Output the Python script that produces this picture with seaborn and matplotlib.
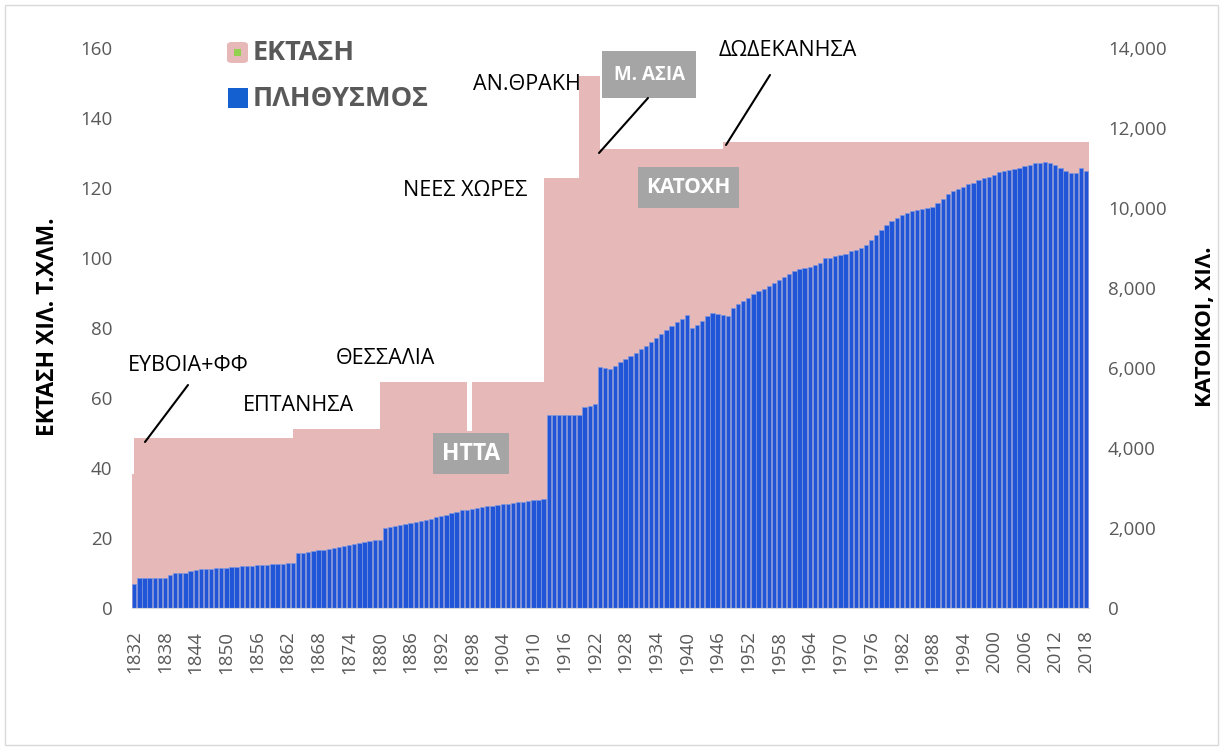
import numpy as np
import pandas as pd
import matplotlib
matplotlib.use("Agg")
import matplotlib.pyplot as plt
import seaborn as sns
from matplotlib.patches import Rectangle, FancyBboxPatch
from matplotlib.lines import Line2D
from matplotlib.ticker import FuncFormatter

sns.set_style("white")
plt.rcParams['font.family'] = ['Open Sans', 'DejaVu Sans']

years = list(range(1832, 2019))

# land area, thousand km2 -- first year each value holds
area_from = [1832, 1833, 1864, 1881, 1898, 1899, 1913, 1920, 1924, 1948]
area_km2 = [38.4, 48.6, 51.3, 64.6, 50.5, 64.6, 123.0, 152.0, 131.3, 133.1]

# population, thousands (one value per year 1832-2018)
population = [
    608, 767, 767, 767, 767, 767, 767, 833,                      # 1832-1839
    875, 883, 875, 933, 950, 983, 983, 992, 1000, 1008,          # 1840s
    1017, 1033, 1042, 1050, 1058, 1067, 1075, 1075, 1092, 1100,  # 1850s
    1108, 1117, 1125, 1142, 1380, 1391, 1416, 1432, 1449, 1466,  # 1860s
    1474, 1499, 1524, 1549, 1574, 1599, 1624, 1649, 1674, 1699,  # 1870s
    1716, 2016, 2041, 2066, 2091, 2107, 2132, 2157, 2182, 2207,  # 1880s
    2232, 2274, 2307, 2341, 2374, 2416, 2449, 2466, 2474, 2507,  # 1890s
    2532, 2549, 2566, 2582, 2599, 2616, 2632, 2649, 2666, 2682,  # 1900s
    2699, 2716, 2741, 4832, 4832, 4832, 4832, 4832, 4832, 4832,  # 1910s
    5024, 5066, 5116, 6032, 6016, 5974, 6057, 6149, 6224, 6299,  # 1920s
    6385, 6478, 6566, 6649, 6749, 6857, 6957, 7049, 7149, 7241,  # 1930s
    7341, 7000, 7082, 7182, 7299, 7391, 7366, 7324, 7307, 7507,  # 1940s
    7591, 7666, 7749, 7841, 7916, 7982, 8049, 8124, 8199, 8282,  # 1950s
    8357, 8416, 8474, 8499, 8532, 8574, 8632, 8741, 8757, 8791,  # 1960s
    8816, 8857, 8916, 8957, 8991, 9074, 9191, 9324, 9457, 9566,  # 1970s
    9666, 9749, 9816, 9874, 9924, 9957, 9982, 10007, 10024, 10116,      # 1980s
    10216, 10349, 10424, 10482, 10532, 10591, 10632, 10695, 10741, 10782,  # 1990s
    10832, 10891, 10924, 10949, 10974, 11007, 11057, 11082, 11116, 11132,  # 2000s
    11149, 11132, 11082, 10999, 10924, 10882, 10882, 10999, 10924,         # 2010-2018
]
assert len(population) == len(years)

tick_years = years[::6]

PINK = "#E6B8B7"
BLUE = "#1F55D6"
GREY_BOX = "#A5A5A5"
TXT = "#595959"

area = []
for yr in years:
    idx = max(i for i, s in enumerate(area_from) if s <= yr)
    area.append(area_km2[idx])
n = len(years)

W, H = 1225, 749
fig = plt.figure(figsize=(W / 100, H / 100), dpi=100)
fx = lambda px: px / W
fy = lambda py: 1 - py / H

ax = fig.add_axes([fx(131.7), fy(608.3), fx(1088.6) - fx(131.7), fy(48) - fy(608.3)])
ax2 = ax.twinx()

# area as step fill behind the bars
xs = np.r_[np.arange(n) - 1, n - 0.5]
ax.fill_between(xs, np.r_[area, area[-1]], step="post", color=PINK, lw=0)

df = pd.DataFrame({"year": [str(y) for y in years], "pop": population})
sns.barplot(data=df, x="year", y="pop", ax=ax2, color=BLUE, saturation=1,
            width=0.84, edgecolor="#7E98E0", linewidth=0.5)

ax.set_xlim(-0.5, n - 0.5)
ax.set_ylim(0, 160)
ax2.set_ylim(0, 14000)
ax.set_yticks(range(0, 161, 20))
ax2.set_yticks(range(0, 14001, 2000))
ax2.yaxis.set_major_formatter(FuncFormatter(lambda v, p: f"{int(v):,}"))
ax.set_xticks([years.index(y) for y in tick_years])
ax.set_xticklabels([str(y) for y in tick_years], rotation=90)

ax.tick_params(axis="y", length=0, labelsize=13.5, labelcolor=TXT, pad=14)
ax2.tick_params(axis="y", length=0, labelsize=13.5, labelcolor=TXT, pad=14)
ax.tick_params(axis="x", length=0, labelsize=13.5, labelcolor=TXT, pad=16)
ax.set_xlabel("")
ax2.set_xlabel("")
ax2.set_ylabel("")
for a in (ax, ax2):
    for s in a.spines.values():
        s.set_visible(False)
ax2.spines["bottom"].set_visible(True)
ax2.spines["bottom"].set_color("#D9D9D9")
ax2.spines["bottom"].set_linewidth(0.8)

# axis titles
fig.text(fx(48), fy(327), "ΕΚΤΑΣΗ ΧΙΛ. Τ.ΧΛΜ.", rotation=90, fontsize=16.5,
         fontweight="bold", ha="center", va="center", color="black")
fig.text(fx(1205), fy(327), "ΚΑΤΟΙΚΟΙ, ΧΙΛ.", rotation=90, fontsize=16,
         fontweight="bold", ha="center", va="center", color="black")

# legend
fig.add_artist(FancyBboxPatch((fx(227), fy(63)), fx(21), 21 / H,
                              boxstyle="round,pad=0,rounding_size=0.004",
                              transform=fig.transFigure, fc=PINK, ec="none"))
fig.add_artist(Rectangle((fx(234), fy(56)), fx(7), 7 / H, transform=fig.transFigure,
                         fc="#92D050", ec="none"))
fig.add_artist(Rectangle((fx(228), fy(108)), fx(20), 20 / H, transform=fig.transFigure,
                         fc="#1560D0", ec="none"))
fig.text(fx(253), fy(53), "ΕΚΤΑΣΗ", fontsize=19.5, fontweight="bold", color=TXT,
         ha="left", va="center")
fig.text(fx(253), fy(99), "ΠΛΗΘΥΣΜΟΣ", fontsize=19.5, fontweight="bold", color=TXT,
         ha="left", va="center")

# annotations
notes = [
    ("ΕΥΒΟΙΑ+ΦΦ", 188, 365),
    ("ΕΠΤΑΝΗΣΑ", 298, 406),
    ("ΘΕΣΣΑΛΙΑ", 385, 359),
    ("ΝΕΕΣ ΧΩΡΕΣ", 465, 190),
    ("ΑΝ.ΘΡΑΚΗ", 527, 85),
    ("ΔΩΔΕΚΑΝΗΣΑ", 788, 50),
]
for txt, px, py in notes:
    fig.text(fx(px), fy(py), txt, fontsize=15.5, color="black", ha="center", va="center")

for (x0, y0), (x1, y1) in [((188, 385), (145, 442)),
                           ((648, 98), (599, 153)),
                           ((770, 75), (726, 145))]:
    fig.add_artist(Line2D([fx(x0), fx(x1)], [fy(y0), fy(y1)], transform=fig.transFigure,
                          color="black", lw=1.5))

boxes = [
    ("Μ. ΑΣΙΑ", 602, 51, 696, 98, 13.5),
    ("ΚΑΤΟΧΗ", 638, 167, 739, 208, 15),
    ("ΗΤΤΑ", 433, 433, 509, 474, 16.5),
]
for txt, x0, y0, x1, y1, fs in boxes:
    fig.add_artist(Rectangle((fx(x0), fy(y1)), fx(x1) - fx(x0), (y1 - y0) / H,
                             transform=fig.transFigure, fc=GREY_BOX, ec="none"))
    fig.text(fx((x0 + x1) / 2), fy((y0 + y1) / 2), txt, fontsize=fs, fontweight="bold",
             color="white", ha="center", va="center")

# chart border
fig.add_artist(Rectangle((fx(5), fy(745)), fx(1218) - fx(5), 740 / H, transform=fig.transFigure,
                         fill=False, ec="#D9D9D9", lw=1))

fig.savefig("out.png", dpi=100)
